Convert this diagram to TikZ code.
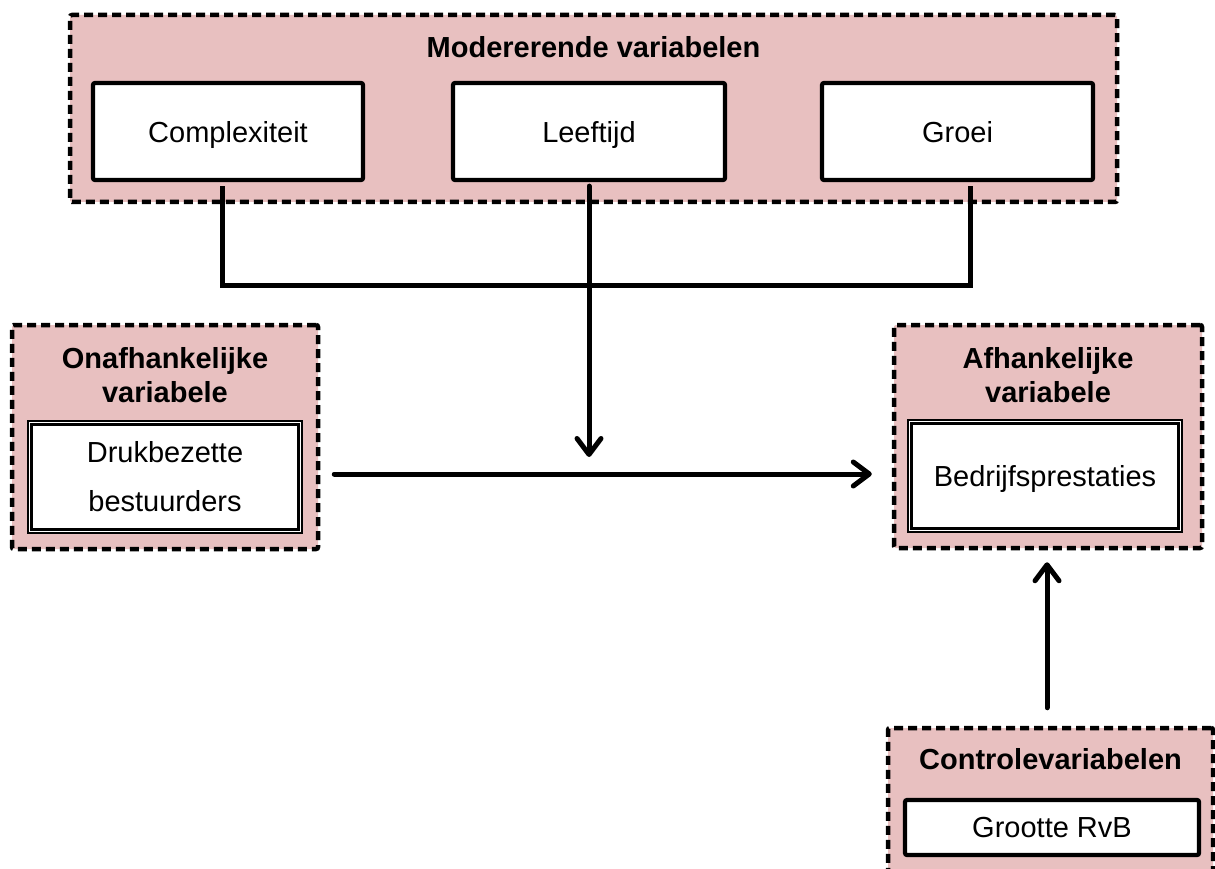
\documentclass[tikz,border=0pt]{standalone}
\usepackage{fontspec}
\setmainfont{Liberation Sans}
\usetikzlibrary{arrows.meta}
\definecolor{boxpink}{RGB}{232,192,192}
\tikzset{
  outerbox/.style={draw=black, fill=boxpink, line width=4.5pt, dash pattern=on 9pt off 5pt, rounded corners=2pt, inner sep=0pt},
  innerbox/.style={draw=black, fill=white, line width=4.2pt, rounded corners=2pt, inner sep=0pt, text depth=0pt, font=\fontsize{29}{35}\selectfont},
  dblbox/.style={draw=black, fill=white, line width=1.6pt, inner sep=0pt, align=center, font=\fontsize{29}{49}\selectfont},
  titletext/.style={inner sep=0pt, align=center, font=\bfseries\fontsize{29}{34}\selectfont},
  conn/.style={line width=5pt},
  arr/.style={line width=5pt, line cap=round, -{Straight Barb[length=16pt,width=24pt,line cap=round,round]}}
}
\begin{document}
\begin{tikzpicture}[x=1pt,y=-1pt]
\useasboundingbox (0,0) rectangle (1215,869);
\clip (0,0) rectangle (1215,869);
% outer boxes
\node[outerbox, minimum width=1047pt, minimum height=187pt] (mod) at (593.5,108.5) {};
\node[outerbox, minimum width=306pt, minimum height=224pt] (ona) at (165,437) {};
\node[outerbox, minimum width=308pt, minimum height=223pt] (afh) at (1048,436.5) {};
\node[outerbox, minimum width=325pt, minimum height=157pt] (ctl) at (1050.5,806.5) {};
% titles
\node[titletext] (modt) at (593.5,47) {Modererende variabelen};
\node[titletext] (onat) at (165,375) {Onafhankelijke\\variabele};
\node[titletext] (afht) at (1048,375) {Afhankelijke\\variabele};
\node[titletext] (ctlt) at (1050.5,759) {Controlevariabelen};
% inner boxes
\node[innerbox, minimum width=270pt, minimum height=97pt] (cx) at (228,131.5) {Complexiteit};
\node[innerbox, minimum width=272pt, minimum height=97pt] (lf) at (589,131.5) {Leeftijd};
\node[innerbox, minimum width=271pt, minimum height=97pt] (gr) at (957.5,131.5) {Groei};
\node[dblbox, minimum width=274pt, minimum height=112pt] (dk) at (165,477) {Drukbezette\\bestuurders};
\node[dblbox, minimum width=274pt, minimum height=112pt, text depth=0pt] (bp) at (1045,476) {Bedrijfsprestaties};
\draw[line width=2.8pt] ([shift={(4.5pt,-4.5pt)}]dk.north west) rectangle ([shift={(-4.5pt,4.5pt)}]dk.south east);
\draw[line width=2.8pt] ([shift={(4.5pt,-4.5pt)}]bp.north west) rectangle ([shift={(-4.5pt,4.5pt)}]bp.south east);
\node[innerbox, minimum width=294pt, minimum height=55pt] (gv) at (1052,827.5) {Grootte RvB};
% connectors
\coordinate (jl) at (222,285);
\coordinate (jr) at (970,285);
\draw[conn] ([yshift=-4pt]cx.south -| jl) -- (jl) -- (jr) -- ([yshift=-4pt]gr.south -| jr);
\coordinate (mt) at (589,457);
\draw[arr] ([yshift=-4pt]lf.south) -- (mt);
\draw[arr] ([xshift=14pt]ona.east |- 0,474) -- ([xshift=-20pt]afh.west |- 0,474);
\draw[arr] ([shift={(-3.5pt,18pt)}]ctl.north) -- ([shift={(-1pt,-12pt)}]afh.south);
\end{tikzpicture}
\end{document}
